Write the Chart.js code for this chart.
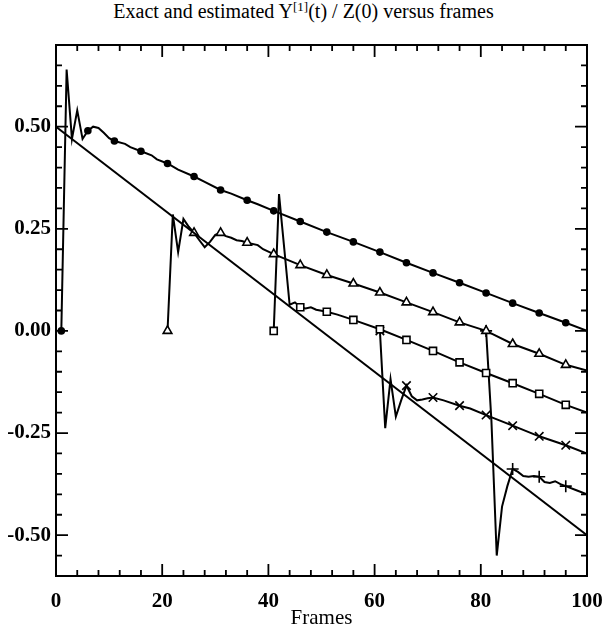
<!DOCTYPE html>
<html>
<head>
<meta charset="utf-8">
<style>
* { margin: 0; padding: 0; }
body { background: #fff; width: 607px; height: 628px; position: relative; overflow: hidden; }
#title {
  position: absolute; left: 0; top: 0; width: 607px;
  text-align: center; font-family: "Liberation Serif", serif; font-size: 20px; color: #000;
}
#title sup { font-size: 13px; vertical-align: 7px; line-height: 0; }
canvas { position: absolute; left: 0; top: 0; }
</style>
</head>
<body>
<div id="title">Exact and estimated Y<sup>[1]</sup>(t) / Z(0) versus frames</div>
<canvas id="myChart" width="607" height="628"></canvas>
<script src="https://cdn.jsdelivr.net/npm/chart.js"></script>
<script>
// exact curve
const exactFrames = [0, 100];
const exactValues = [0.5, -0.5];

// estimate started at frame 1 (circles)
const framesA = [1, 2, 3, 4, 5, 6, 7, 8, 9, 10, 11, 13, 14, 16, 18, 19, 21, 23, 26, 28, 31, 33, 36, 38, 41, 46, 51, 56, 61, 66, 71, 76, 81, 86, 91, 96, 100];
const valuesA = [0.0, 0.64, 0.47, 0.54, 0.47, 0.49, 0.50, 0.497, 0.485, 0.472, 0.465, 0.458, 0.45, 0.44, 0.43, 0.42, 0.41, 0.395, 0.378, 0.365, 0.345, 0.336, 0.32, 0.31, 0.294, 0.268, 0.242, 0.218, 0.193, 0.167, 0.142, 0.118, 0.093, 0.068, 0.044, 0.02, 0.0];

// estimate started at frame 21 (triangles)
const framesB = [21, 22, 23, 24, 25, 26, 27, 28, 29, 30, 31, 32, 33, 34, 35, 36, 38, 39, 41, 46, 51, 56, 61, 66, 71, 76, 81, 86, 91, 96, 100];
const valuesB = [0.0, 0.285, 0.193, 0.274, 0.255, 0.24, 0.222, 0.205, 0.218, 0.235, 0.24, 0.232, 0.228, 0.222, 0.22, 0.216, 0.21, 0.2, 0.188, 0.161, 0.137, 0.116, 0.094, 0.07, 0.046, 0.021, 0.0, -0.032, -0.056, -0.083, -0.097];

// estimate started at frame 41 (squares)
const framesC = [41, 42, 43, 44, 45, 46, 47, 48, 49, 51, 53, 56, 61, 66, 71, 76, 81, 86, 91, 96, 100];
const valuesC = [0.0, 0.335, 0.2, 0.064, 0.07, 0.058, 0.055, 0.058, 0.052, 0.047, 0.04, 0.027, 0.004, -0.022, -0.049, -0.077, -0.103, -0.128, -0.154, -0.181, -0.2];

// estimate started at frame 61 (crosses)
const framesD = [61, 62, 63, 64, 65, 66, 67, 68, 69, 70, 71, 73, 76, 78, 81, 86, 91, 96, 100];
const valuesD = [0.0, -0.238, -0.118, -0.21, -0.17, -0.134, -0.16, -0.17, -0.168, -0.165, -0.163, -0.17, -0.183, -0.19, -0.206, -0.232, -0.258, -0.28, -0.3];

// estimate started at frame 81 (plus signs)
const framesE = [81, 82, 83, 84, 85, 86, 87, 88, 89, 90, 91, 92, 93, 94, 95, 96, 98, 100];
const valuesE = [0.0, -0.22, -0.55, -0.43, -0.38, -0.338, -0.345, -0.355, -0.357, -0.355, -0.357, -0.37, -0.372, -0.368, -0.375, -0.38, -0.39, -0.4];

const xTickValues = [0, 20, 40, 60, 80, 100];
const yTickValues = [-0.5, -0.25, 0, 0.25, 0.5];

const serif = "'Liberation Serif', 'Times New Roman', serif";

function pts(frames, values) {
  return frames.map((f, i) => ({ x: f, y: values[i] }));
}

// a marker every 5 frames, starting at the first frame of the run
function series(frames, values, style, r, fill) {
  const start = frames[0];
  return {
    data: pts(frames, values),
    borderColor: '#000',
    borderWidth: 2,
    pointStyle: style,
    pointBorderColor: '#000',
    pointBorderWidth: 1.6,
    pointBackgroundColor: fill,
    pointRadius: ctx => ((ctx.raw.x - start) % 5 === 0 && ctx.raw.x < 100) ? r : 0,
    tension: 0
  };
}

// frame box with inward ticks on all four sides
const frameBox = {
  id: 'frameBox',
  afterDatasetsDraw(chart) {
    const { ctx, chartArea: a, scales: { x, y } } = chart;
    ctx.save();
    ctx.strokeStyle = '#000';
    ctx.lineWidth = 2;
    ctx.strokeRect(a.left, a.top, a.right - a.left, a.bottom - a.top);
    ctx.lineWidth = 1.8;
    ctx.beginPath();
    for (let f = 0; f <= 100; f += 4) {
      const px = x.getPixelForValue(f);
      const len = f % 20 === 0 ? 12 : 6;
      ctx.moveTo(px, a.bottom); ctx.lineTo(px, a.bottom - len);
      ctx.moveTo(px, a.top); ctx.lineTo(px, a.top + len);
    }
    for (let k = -12; k <= 14; k++) {
      const py = y.getPixelForValue(k * 0.05);
      const len = k % 5 === 0 ? 12 : 6;
      ctx.moveTo(a.left, py); ctx.lineTo(a.left + len, py);
      ctx.moveTo(a.right, py); ctx.lineTo(a.right - len, py);
    }
    ctx.stroke();
    ctx.restore();
  }
};

const config = {
  type: 'line',
  data: {
    datasets: [
      { data: pts(exactFrames, exactValues), borderColor: '#000', borderWidth: 2, pointRadius: 0, tension: 0 },
      series(framesA, valuesA, 'circle', 3, '#000'),
      series(framesB, valuesB, 'triangle', 5, '#fff'),
      series(framesC, valuesC, 'rect', 5, '#fff'),
      series(framesD, valuesD, 'crossRot', 6, '#000'),
      series(framesE, valuesE, 'cross', 6, '#000')
    ]
  },
  options: {
    responsive: false,
    animation: false,
    layout: { padding: { top: 45, right: 20, left: 0, bottom: 0 } },
    plugins: { legend: { display: false }, tooltip: { enabled: false }, title: { display: false } },
    scales: {
      x: {
        type: 'linear', min: 0, max: 100,
        grid: { display: false, drawTicks: false },
        border: { display: false },
        afterBuildTicks: s => { s.ticks = xTickValues.map(v => ({ value: v })); },
        afterFit: s => { s.height = 52; s.paddingLeft = 0; s.paddingRight = 0; },
        ticks: { color: '#000', padding: 13, maxRotation: 0, font: { family: serif, size: 21, weight: 'bold' } },
        title: { display: true, text: 'Frames', color: '#000', padding: { top: 0, bottom: -3 }, font: { family: serif, size: 21 } }
      },
      y: {
        min: -0.6, max: 0.7,
        grid: { display: false, drawTicks: false },
        border: { display: false },
        afterBuildTicks: s => { s.ticks = yTickValues.map(v => ({ value: v })); },
        afterFit: s => { s.width = 56; s.paddingTop = 0; s.paddingBottom = 0; },
        ticks: { color: '#000', padding: 5, font: { family: serif, size: 21, weight: 'bold' }, callback: v => v.toFixed(2) }
      }
    }
  },
  plugins: [frameBox]
};

const myChart = new Chart(document.getElementById('myChart'), config);
</script>
</body>
</html>
